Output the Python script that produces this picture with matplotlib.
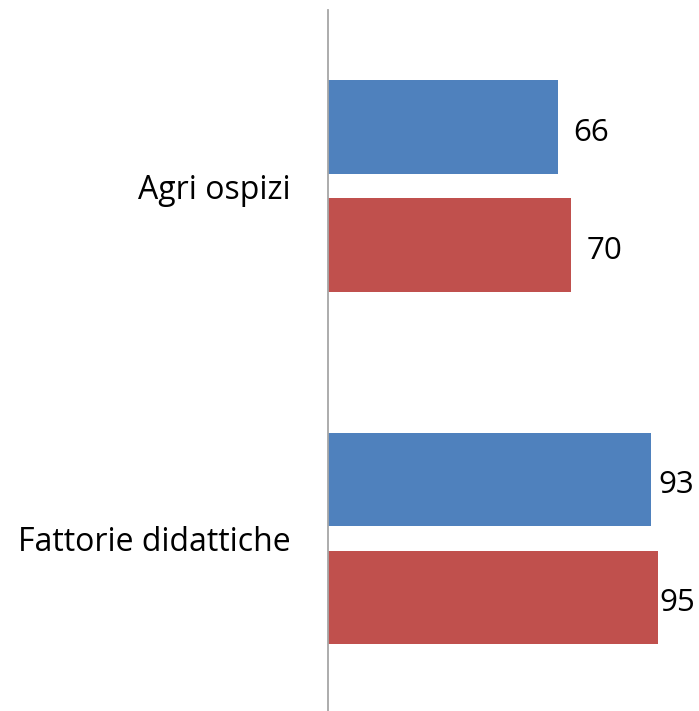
import matplotlib
matplotlib.use("Agg")
import matplotlib.pyplot as plt
import numpy as np

categorie = ["Agri ospizi", "Fattorie didattiche"]
serie_blu = [66, 93]
serie_rossa = [70, 95]

# spostamento orizzontale delle etichette (pixel)
off_blu = [16, 7]
off_rossa = [15, 1]

plt.rcParams['font.family'] = ['Open Sans', 'DejaVu Sans']

fig = plt.figure(figsize=(6.99, 7.11), dpi=100)
W, H = 699.0, 711.0
# assi: x da 328 px, 3.478 px per unita'; y da 10 px a 714.6 px
ax = fig.add_axes([328 / W, 1 - 714.6 / H, 347.8 / W, 704.6 / H])

y = np.arange(len(categorie))
h = 0.265
d = 0.1675
b1 = ax.barh(y - d, serie_blu, height=h, color='#4F81BD')
b2 = ax.barh(y + d, serie_rossa, height=h, color='#C0504D')

for bars, vals, offs in [(b1, serie_blu, off_blu), (b2, serie_rossa, off_rossa)]:
    for r, v, o in zip(bars, vals, offs):
        ax.annotate(str(v), (r.get_width(), r.get_y() + r.get_height() / 2),
                    xytext=(o, -2), textcoords='offset pixels',
                    ha='left', va='center_baseline', fontsize=22.5, color='black',
                    annotation_clip=False)

ax.set_xlim(0, 100)
ax.set_ylim(1.5, -0.5)
ax.set_yticks(y)
ax.set_yticklabels(categorie, fontsize=23, va='center_baseline')
ax.tick_params(axis='y', length=0, pad=27)
ax.set_xticks([])
for s in ['top', 'right', 'bottom']:
    ax.spines[s].set_visible(False)
ax.spines['left'].set_color('#A6A6A6')
ax.spines['left'].set_linewidth(1.3)
ax.patch.set_alpha(0)

fig.savefig('out.png', dpi=100)
